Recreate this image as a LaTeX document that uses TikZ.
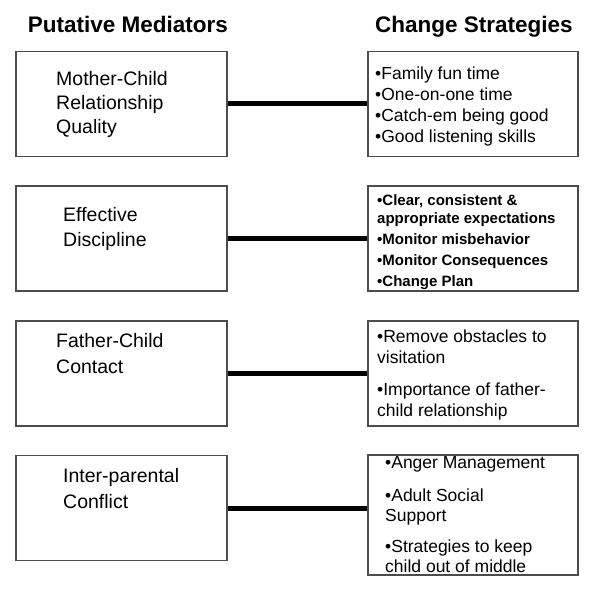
\documentclass[tikz,border=0pt]{standalone}
\usepackage{fontspec}
\setmainfont{Liberation Sans}
\usepackage{tikz}
\usetikzlibrary{positioning,calc}

\begin{document}
\begin{tikzpicture}[
    x=1pt, y=-1pt,
    box/.style={rectangle, draw=black!70, line width=1.1pt, minimum width=211pt, minimum height=105pt, inner sep=0pt},
    heading/.style={anchor=base, font=\fontsize{22.5}{27}\selectfont\bfseries},
    medtext/.style={anchor=north west, inner sep=0pt, align=left, font=\fontsize{19.5}{24}\selectfont},
    strattext/.style={anchor=north west, inner sep=0pt, align=left, font=\fontsize{17.5}{21}\selectfont},
    link/.style={line width=5pt, black}
]
    \useasboundingbox (0,0) rectangle (600,599);

    % Headings
    \node[heading] (hmed) at (128,33) {Putative Mediators};
    \node[heading] (hstrat) at (474,33) {Change Strategies};

    % Mediators
    \node[box] (med1) at (121.5,104) {};
    \node[box] (med2) at (121.5,238.5) {};
    \node[box] (med3) at (121.5,373.5) {};
    \node[box] (med4) at (121.5,508) {};
    \node[medtext] (med1txt) at (56,71) {Mother-Child\\Relationship\\Quality};
    \node[medtext] (med2txt) at (63,207) {Effective\\[1.5pt]Discipline};
    \node[medtext] (med3txt) at (56,333) {Father-Child\\[2.5pt]Contact};
    \node[medtext] (med4txt) at (63,468) {Inter-parental\\[2.5pt]Conflict};

    % Strategies
    \node[box, minimum width=210pt] (strat1) at (473,104) {};
    \node[box, minimum width=210pt] (strat2) at (473,238.5) {};
    \node[box, minimum width=210pt] (strat3) at (473,373.5) {};
    \node[box, minimum width=210pt, minimum height=120pt] (strat4) at (473,515) {};
    \node[strattext] (strat1txt) at (375,66.5)
        {•Family fun time\\•One-on-one time\\•Catch-em being good\\•Good listening skills};
    \node[strattext, font=\fontsize{15}{18}\selectfont\bfseries] (strat2txt) at (377,194.3)
        {•Clear, consistent \&\\appropriate expectations\\[3pt]•Monitor misbehavior\\[3pt]•Monitor Consequences\\[3pt]•Change Plan};
    \node[strattext] (strat3txt) at (377,329.5)
        {•Remove obstacles to\\visitation\\[11pt]•Importance of father-\\child relationship};
    \node[strattext, font=\fontsize{17.5}{20}\selectfont] (strat4txt) at (385,456.5)
        {•Anger Management\\[13pt]•Adult Social\\Support\\[11pt]•Strategies to keep\\child out of middle};

    % Links
    \draw[link] (med1.east) -- (strat1.west);
    \draw[link] (med2.east) -- (strat2.west);
    \draw[link] (med3.east) -- (strat3.west);
    \draw[link] (med4.east) -- (med4.east -| strat4.west);
\end{tikzpicture}
\end{document}
